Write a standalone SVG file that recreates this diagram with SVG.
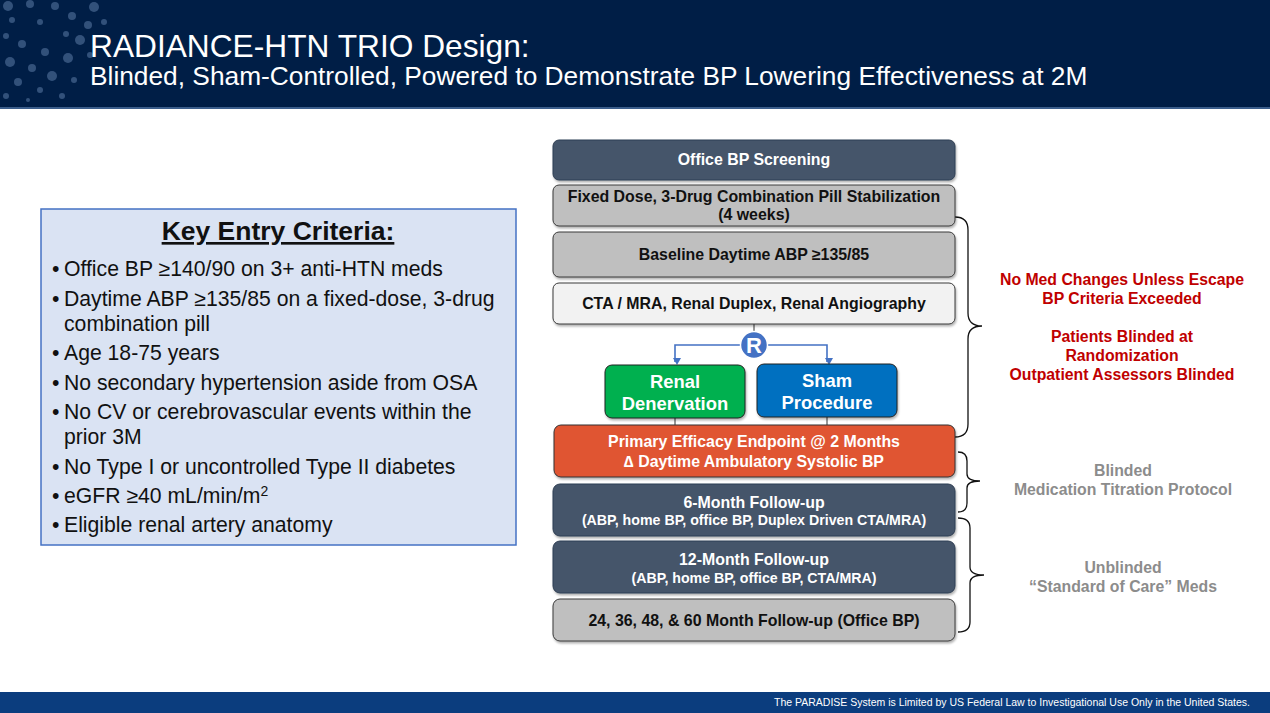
<svg xmlns="http://www.w3.org/2000/svg" width="1270" height="713" viewBox="0 0 1270 713">
<defs>
<style>
text{font-family:"Liberation Sans",Arial,sans-serif}
.b{font-weight:bold}
.wt{fill:#fff;font-weight:bold;text-anchor:middle}
.bk{fill:#111;font-weight:bold;text-anchor:middle}
.dark{fill:#44546A;stroke:#2F3E52;stroke-width:1}
.gray{fill:#BFBFBF;stroke:#3A3A3A;stroke-width:1}
.light{fill:#F2F2F2;stroke:#3A3A3A;stroke-width:1}
.bul{font-size:21.2px;fill:#111}
.red{fill:#C00000;font-weight:bold;font-size:15.8px;text-anchor:middle}
.gr{fill:#8C8C8C;font-weight:bold;font-size:15.8px;text-anchor:middle}
.brace{fill:none;stroke:#111;stroke-width:1.3}
.conn{fill:none;stroke:#4472C4;stroke-width:1.6}
.dot{fill:#5C7BA6}
</style>
<marker id="ah" markerWidth="8" markerHeight="8" refX="4" refY="6" orient="auto" markerUnits="userSpaceOnUse" viewBox="0 0 8 8">
<path d="M0,0 L8,0 L4,7 Z" fill="#4472C4" transform="rotate(-90 4 4)"/>
</marker>
<filter id="sh" x="-5%" y="-10%" width="110%" height="130%"><feDropShadow dx="1" dy="2" stdDeviation="1.2" flood-opacity="0.3"/></filter>
</defs>
<rect width="1270" height="713" fill="#fff"/>
<g id="header">
<rect x="0" y="0" width="1270" height="108" fill="#001E46"/>
<rect x="0" y="107" width="1270" height="2" fill="#3B5E8C"/>
<g opacity="0.55">
<circle class="dot" cx="8" cy="6" r="5"/><circle class="dot" cx="30" cy="4" r="4"/><circle class="dot" cx="55" cy="6" r="4"/><circle class="dot" cx="72" cy="16" r="4"/><circle class="dot" cx="94" cy="7" r="5"/><circle class="dot" cx="104" cy="22" r="3"/>
<circle class="dot" cx="12" cy="20" r="3"/><circle class="dot" cx="40" cy="22" r="3"/><circle class="dot" cx="66" cy="34" r="3"/><circle class="dot" cx="80" cy="40" r="5"/><circle class="dot" cx="88" cy="25" r="4"/>
<circle class="dot" cx="6" cy="36" r="3"/><circle class="dot" cx="22" cy="44" r="4"/><circle class="dot" cx="45" cy="52" r="4"/><circle class="dot" cx="68" cy="58" r="5"/><circle class="dot" cx="90" cy="55" r="3"/>
<circle class="dot" cx="10" cy="62" r="5"/><circle class="dot" cx="32" cy="68" r="4"/><circle class="dot" cx="52" cy="76" r="5"/><circle class="dot" cx="74" cy="80" r="3"/><circle class="dot" cx="18" cy="82" r="4"/>
<circle class="dot" cx="40" cy="90" r="3"/><circle class="dot" cx="62" cy="96" r="3"/><circle class="dot" cx="6" cy="96" r="3"/><circle class="dot" cx="28" cy="100" r="2"/>
</g>
<text x="90" y="57" font-size="31.7" fill="#fff">RADIANCE-HTN TRIO Design:</text>
<text x="90" y="85" font-size="26.3" fill="#fff">Blinded, Sham-Controlled, Powered to Demonstrate BP Lowering Effectiveness at 2M</text>
</g>
<g id="criteria">
<rect x="41" y="209" width="475" height="336" fill="#DAE3F3" stroke="#4472C4" stroke-width="1.5"/>
<text x="278" y="240" font-size="26.5" class="b" fill="#111" text-anchor="middle" text-decoration="underline">Key Entry Criteria:</text>
<g class="bul">
<text x="52" y="276">•</text><text x="64" y="276">Office BP ≥140/90 on 3+ anti-HTN meds</text>
<text x="52" y="306">•</text><text x="64" y="306">Daytime ABP ≥135/85 on a fixed-dose, 3-drug</text>
<text x="64" y="331">combination pill</text>
<text x="52" y="360">•</text><text x="64" y="360">Age 18-75 years</text>
<text x="52" y="390">•</text><text x="64" y="390">No secondary hypertension aside from OSA</text>
<text x="52" y="419">•</text><text x="64" y="419">No CV or cerebrovascular events within the</text>
<text x="64" y="444">prior 3M</text>
<text x="52" y="474">•</text><text x="64" y="474">No Type I or uncontrolled Type II diabetes</text>
<text x="52" y="503">•</text><text x="64" y="503">eGFR ≥40 mL/min/m<tspan font-size="14" dy="-7">2</tspan></text>
<text x="52" y="532">•</text><text x="64" y="532">Eligible renal artery anatomy</text>
</g>
</g>
<g id="connectors">
<line x1="754" y1="324" x2="754" y2="334" stroke="#333" stroke-width="1"/>
<polyline class="conn" points="754,345 675,345 675,362" marker-end="url(#ah)"/>
<polyline class="conn" points="754,345 827,345 827,362" marker-end="url(#ah)"/>
<line x1="675" y1="418" x2="675" y2="425" stroke="#333" stroke-width="1"/>
<line x1="827" y1="417" x2="827" y2="425" stroke="#333" stroke-width="1"/>
<path class="brace" d="M955 217 Q968 217 968 230 L968 313 Q968 326 982 326 Q968 326 968 339 L968 424 Q968 437 955 437"/>
<path class="brace" d="M958 452 Q967 452 967 461 L967 474 Q967 481 980 481 Q967 481 967 488 L967 503 Q967 512 958 512"/>
<path class="brace" d="M958 518 Q970 518 970 528 L970 567 Q970 575 984 575 Q970 575 970 583 L970 622 Q970 632 958 632"/>
</g>
<g id="screening"><rect class="dark" x="553" y="140" width="402" height="40" rx="6" filter="url(#sh)"/><text class="wt" x="754" y="165" font-size="15.9">Office BP Screening</text></g>
<g id="fixed-dose"><rect class="gray" x="553" y="185" width="402" height="41" rx="6" filter="url(#sh)"/><text class="bk" x="754" y="202" font-size="15.9">Fixed Dose, 3-Drug Combination Pill Stabilization</text><text class="bk" x="754" y="220" font-size="15.9">(4 weeks)</text></g>
<g id="baseline"><rect class="gray" x="553" y="232" width="402" height="45" rx="6" filter="url(#sh)"/><text class="bk" x="754" y="260" font-size="15.9">Baseline Daytime ABP ≥135/85</text></g>
<g id="imaging"><rect class="light" x="553" y="283" width="402" height="41" rx="6" filter="url(#sh)"/><text class="bk" x="754" y="309" font-size="15.9">CTA / MRA, Renal Duplex, Renal Angiography</text></g>
<g id="randomize"><circle cx="754" cy="345" r="13.5" fill="#4472C4" stroke="#fff" stroke-width="1.5"/><text class="wt" x="754" y="353" font-size="22">R</text></g>
<g id="rdn"><rect x="605" y="365" width="140" height="53" rx="7" fill="#00B050" stroke="#222" stroke-width="1" filter="url(#sh)"/><text class="wt" x="675" y="388" font-size="18.4">Renal</text><text class="wt" x="675" y="410" font-size="18.4">Denervation</text></g>
<g id="sham"><rect x="757" y="364" width="140" height="53" rx="7" fill="#0070C0" stroke="#222" stroke-width="1" filter="url(#sh)"/><text class="wt" x="827" y="387" font-size="18.4">Sham</text><text class="wt" x="827" y="409" font-size="18.4">Procedure</text></g>
<g id="primary"><rect x="554" y="425" width="401" height="52" rx="7" fill="#E05431" stroke="#333" stroke-width="1" filter="url(#sh)"/><text class="wt" x="754" y="447" font-size="15.9">Primary Efficacy Endpoint @ 2 Months</text><text class="wt" x="754" y="467" font-size="15.9">∆ Daytime Ambulatory Systolic BP</text></g>
<g id="m6"><rect class="dark" x="553" y="484" width="402" height="52" rx="7" filter="url(#sh)"/><text class="wt" x="754" y="508" font-size="15.9">6-Month Follow-up</text><text class="wt" x="754" y="525" font-size="14.2">(ABP, home BP, office BP, Duplex Driven CTA/MRA)</text></g>
<g id="m12"><rect class="dark" x="553" y="541" width="402" height="52" rx="7" filter="url(#sh)"/><text class="wt" x="754" y="565" font-size="15.9">12-Month Follow-up</text><text class="wt" x="754" y="583" font-size="14.2">(ABP, home BP, office BP, CTA/MRA)</text></g>
<g id="long-term"><rect class="gray" x="553" y="599" width="402" height="42" rx="7" filter="url(#sh)"/><text class="bk" x="754" y="626" font-size="15.9">24, 36, 48, &amp; 60 Month Follow-up (Office BP)</text></g>
<g id="notes">
<text class="red" x="1122" y="285">No Med Changes Unless Escape</text>
<text class="red" x="1122" y="304">BP Criteria Exceeded</text>
<text class="red" x="1122" y="342">Patients Blinded at</text>
<text class="red" x="1122" y="361">Randomization</text>
<text class="red" x="1122" y="380">Outpatient Assessors Blinded</text>
<text class="gr" x="1123" y="476">Blinded</text>
<text class="gr" x="1123" y="495">Medication Titration Protocol</text>
<text class="gr" x="1123" y="573">Unblinded</text>
<text class="gr" x="1123" y="592">“Standard of Care” Meds</text>
</g>
<g id="footer">
<rect x="0" y="692" width="1270" height="21" fill="#0B3D7E"/>
<text x="1250" y="706" font-size="10.5" fill="#fff" text-anchor="end">The PARADISE System is Limited by US Federal Law to Investigational Use Only in the United States.</text>
</g>
</svg>
